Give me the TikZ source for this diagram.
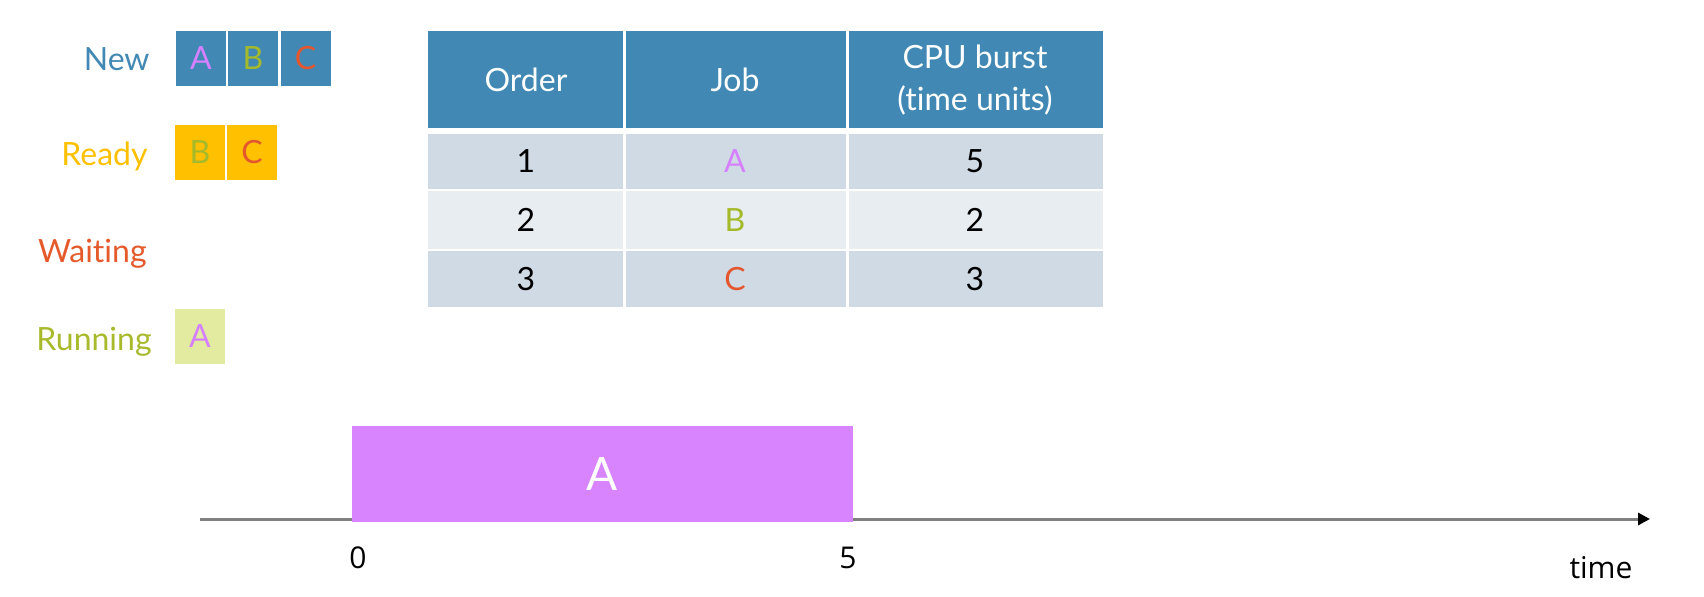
\documentclass[tikz,border=0pt]{standalone}
\usepackage{fontspec}
\setmainfont{Lato}[Ligatures=NoCommon]
\newfontfamily\axisfont{Open Sans}
\usetikzlibrary{arrows.meta}
\definecolor{headblue}{RGB}{65,137,180}
\definecolor{rowdark}{RGB}{208,218,229}
\definecolor{rowlight}{RGB}{232,237,241}
\definecolor{readyc}{RGB}{255,192,0}
\definecolor{waitc}{RGB}{229,90,43}
\definecolor{runc}{RGB}{168,186,44}
\definecolor{runbox}{RGB}{226,235,160}
\definecolor{jobA}{RGB}{213,128,255}
\definecolor{jobB}{RGB}{165,186,42}
\definecolor{jobC}{RGB}{228,87,46}
\definecolor{barc}{RGB}{216,132,255}
\definecolor{axisc}{RGB}{128,128,128}
\begin{document}
\begin{tikzpicture}[x=0.5pt,y=-0.5pt,
  lbl/.style={font=\fontsize{16}{19}\selectfont, anchor=base east, inner sep=0},
  qbox/.style={minimum width=25pt, minimum height=27.5pt, inner sep=0, font=\fontsize{16}{19}\selectfont},
  cell/.style={font=\fontsize{16}{21}\selectfont, align=center, inner sep=0},
  axnum/.style={font=\axisfont\fontsize{15}{18}\selectfont, inner sep=0}]
\useasboundingbox (0,0) rectangle (1704,596);
% state labels
\node[lbl, text=headblue] (lnew) at (150,70) {New};
\node[lbl, text=readyc] (lready) at (148,165) {Ready};
\node[lbl, text=waitc] (lwait) at (147,262) {Waiting};
\node[lbl, text=runc] (lrun) at (152,350) {Running};
% queue boxes
\node[qbox, fill=headblue, text=jobA] (nA) at (201,58.5) {A};
\node[qbox, fill=headblue, text=jobB] (nB) at (253,58.5) {B};
\node[qbox, fill=headblue, text=jobC] (nC) at (305.5,58.5) {C};
\node[qbox, fill=readyc, text=jobB] (rB) at (200,152.5) {B};
\node[qbox, fill=readyc, text=jobC] (rC) at (252,152.5) {C};
\node[qbox, fill=runbox, text=jobA] (uA) at (200,336) {A};
% table
\fill[headblue] (428,31) rectangle (1103,128);
\fill[rowdark] (428,134) rectangle (1103,189);
\fill[rowlight] (428,191) rectangle (1103,249);
\fill[rowdark] (428,251) rectangle (1103,307);
\fill[white] (622.5,31) rectangle (625.5,307);
\fill[white] (845.5,31) rectangle (848.5,307);
\node[cell, text=white] (hOrder) at (526,80) {Order};
\node[cell, text=white] (hJob) at (735,80) {Job};
\node[cell, text=white] (hCPU) at (975,80) {CPU burst\\(time units)};
\node[cell] (o1) at (526,161.5) {1};
\node[cell, text=jobA] (j1) at (735,161.5) {A};
\node[cell] (c1) at (975,161.5) {5};
\node[cell] (o2) at (526,220) {2};
\node[cell, text=jobB] (j2) at (735,220) {B};
\node[cell] (c2) at (975,220) {2};
\node[cell] (o3) at (526,279) {3};
\node[cell, text=jobC] (j3) at (735,279) {C};
\node[cell] (c3) at (975,279) {3};
% axis
\coordinate (axs) at (200,519);
\coordinate (axe) at (1650,519);
\draw[axisc, line width=1.5pt, -{Triangle[length=6pt,width=6pt,color=black]}] (axs) -- (axe);
% bar
\node[fill=barc, minimum width=250.5pt, minimum height=48pt, inner sep=0, text=white, font=\fontsize{23}{26}\selectfont] (barA) at (602.5,474) {A};
% axis labels
\node[axnum] (t0) at (358,558) {0};
\node[axnum] (t5) at (848,558) {5};
\node[axnum, anchor=base] (ttime) at (1601,578) {time};
\end{tikzpicture}
\end{document}
